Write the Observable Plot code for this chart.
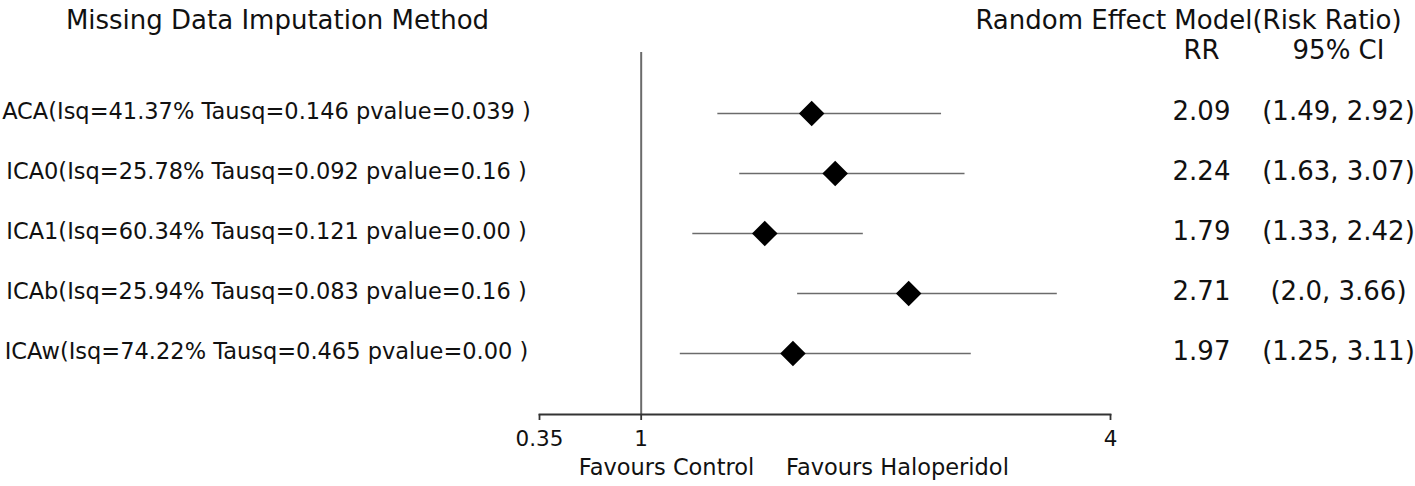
<!DOCTYPE html>
<html>
<head>
<meta charset="utf-8">
<script src="https://cdn.jsdelivr.net/npm/d3@7"></script>
<script src="https://cdn.jsdelivr.net/npm/@observablehq/plot@0.6"></script>
<style>
  html, body { margin: 0; padding: 0; background: #fff; }
  svg { display: block; }
</style>
</head>
<body>
<div id="chart"></div>
<script>
const methods = ["ACA", "ICA0", "ICA1", "ICAb", "ICAw"];
const labels = [
  "ACA(Isq=41.37% Tausq=0.146 pvalue=0.039 )",
  "ICA0(Isq=25.78% Tausq=0.092 pvalue=0.16 )",
  "ICA1(Isq=60.34% Tausq=0.121 pvalue=0.00 )",
  "ICAb(Isq=25.94% Tausq=0.083 pvalue=0.16 )",
  "ICAw(Isq=74.22% Tausq=0.465 pvalue=0.00 )"
];
const rr = [2.09, 2.24, 1.79, 2.71, 1.97];
const lower = [1.49, 1.63, 1.33, 2.0, 1.25];
const upper = [2.92, 3.07, 2.42, 3.66, 3.11];
const rrText = ["2.09", "2.24", "1.79", "2.71", "1.97"];
const ciText = ["(1.49, 2.92)", "(1.63, 3.07)", "(1.33, 2.42)", "(2.0, 3.66)", "(1.25, 3.11)"];
const xTicks = [0.35, 1, 4];
const xTickLabels = ["0.35", "1", "4"];

const rows = methods.map((m, i) => ({
  method: m, label: labels[i], rr: rr[i], lo: lower[i], hi: upper[i],
  rrText: rrText[i], ciText: ciText[i]
}));

const font = "DejaVu Sans, sans-serif";
const ink = "#111";

const chart = Plot.plot({
  width: 1415,
  height: 486,
  marginLeft: 539,
  marginRight: 305,
  marginTop: 52,
  marginBottom: 72,
  style: { fontFamily: font, fontSize: "20px", color: ink, background: "#fff" },
  x: { type: "linear", domain: [0.35, 4] },
  y: { type: "point", domain: methods, range: [111, 354], padding: 0, axis: null },
  marks: [
    Plot.ruleX([1], { stroke: "#6b6b6b", strokeWidth: 2 }),
    Plot.frame({ anchor: "bottom", stroke: "#333", strokeWidth: 1.8 }),
    Plot.axisX({
      ticks: xTicks,
      tickFormat: (d) => xTickLabels[xTicks.indexOf(d)],
      tickSize: 6,
      tickPadding: 10,
      stroke: "#333",
      strokeWidth: 1.8,
      fontSize: 21.5,
      fill: ink,
      label: null
    }),
    Plot.ruleY(rows, { y: "method", x1: "lo", x2: "hi", stroke: "#6b6b6b", strokeWidth: 1.6 }),
    Plot.dot(rows, { y: "method", x: "rr", symbol: "diamond2", r: 11.5, fill: "#000", stroke: "none" }),
    // row labels
    Plot.text(rows, { y: "method", text: "label", frameAnchor: "left", dx: -273, dy: -2, textAnchor: "middle", fontSize: 22.5, fill: ink }),
    // RR values and CIs
    Plot.text(rows, { y: "method", text: "rrText", frameAnchor: "right", dx: 91, dy: -2, textAnchor: "middle", fontSize: 26, fill: ink }),
    Plot.text(rows, { y: "method", text: "ciText", frameAnchor: "right", dx: 228, dy: -2, textAnchor: "middle", fontSize: 26, fill: ink }),
    // headers
    Plot.text(["Missing Data Imputation Method"], { frameAnchor: "top-left", dx: -262, dy: -42, textAnchor: "middle", fontSize: 26, fill: ink }),
    Plot.text(["Random Effect Model(Risk Ratio)"], { frameAnchor: "top-right", dx: 78, dy: -42, textAnchor: "middle", fontSize: 26, fill: ink }),
    Plot.text(["RR"], { frameAnchor: "top-right", dx: 91, dy: -12, textAnchor: "middle", fontSize: 26, fill: ink }),
    Plot.text(["95% CI"], { frameAnchor: "top-right", dx: 228, dy: -12, textAnchor: "middle", fontSize: 26, fill: ink }),
    // favours labels
    Plot.text(["Favours Control"], { frameAnchor: "bottom-left", dx: 127, dy: 60, textAnchor: "middle", fontSize: 22.5, fill: ink }),
    Plot.text(["Favours Haloperidol"], { frameAnchor: "bottom-left", dx: 358, dy: 60, textAnchor: "middle", fontSize: 22.5, fill: ink })
  ]
});
document.getElementById("chart").appendChild(chart);
</script>
</body>
</html>
